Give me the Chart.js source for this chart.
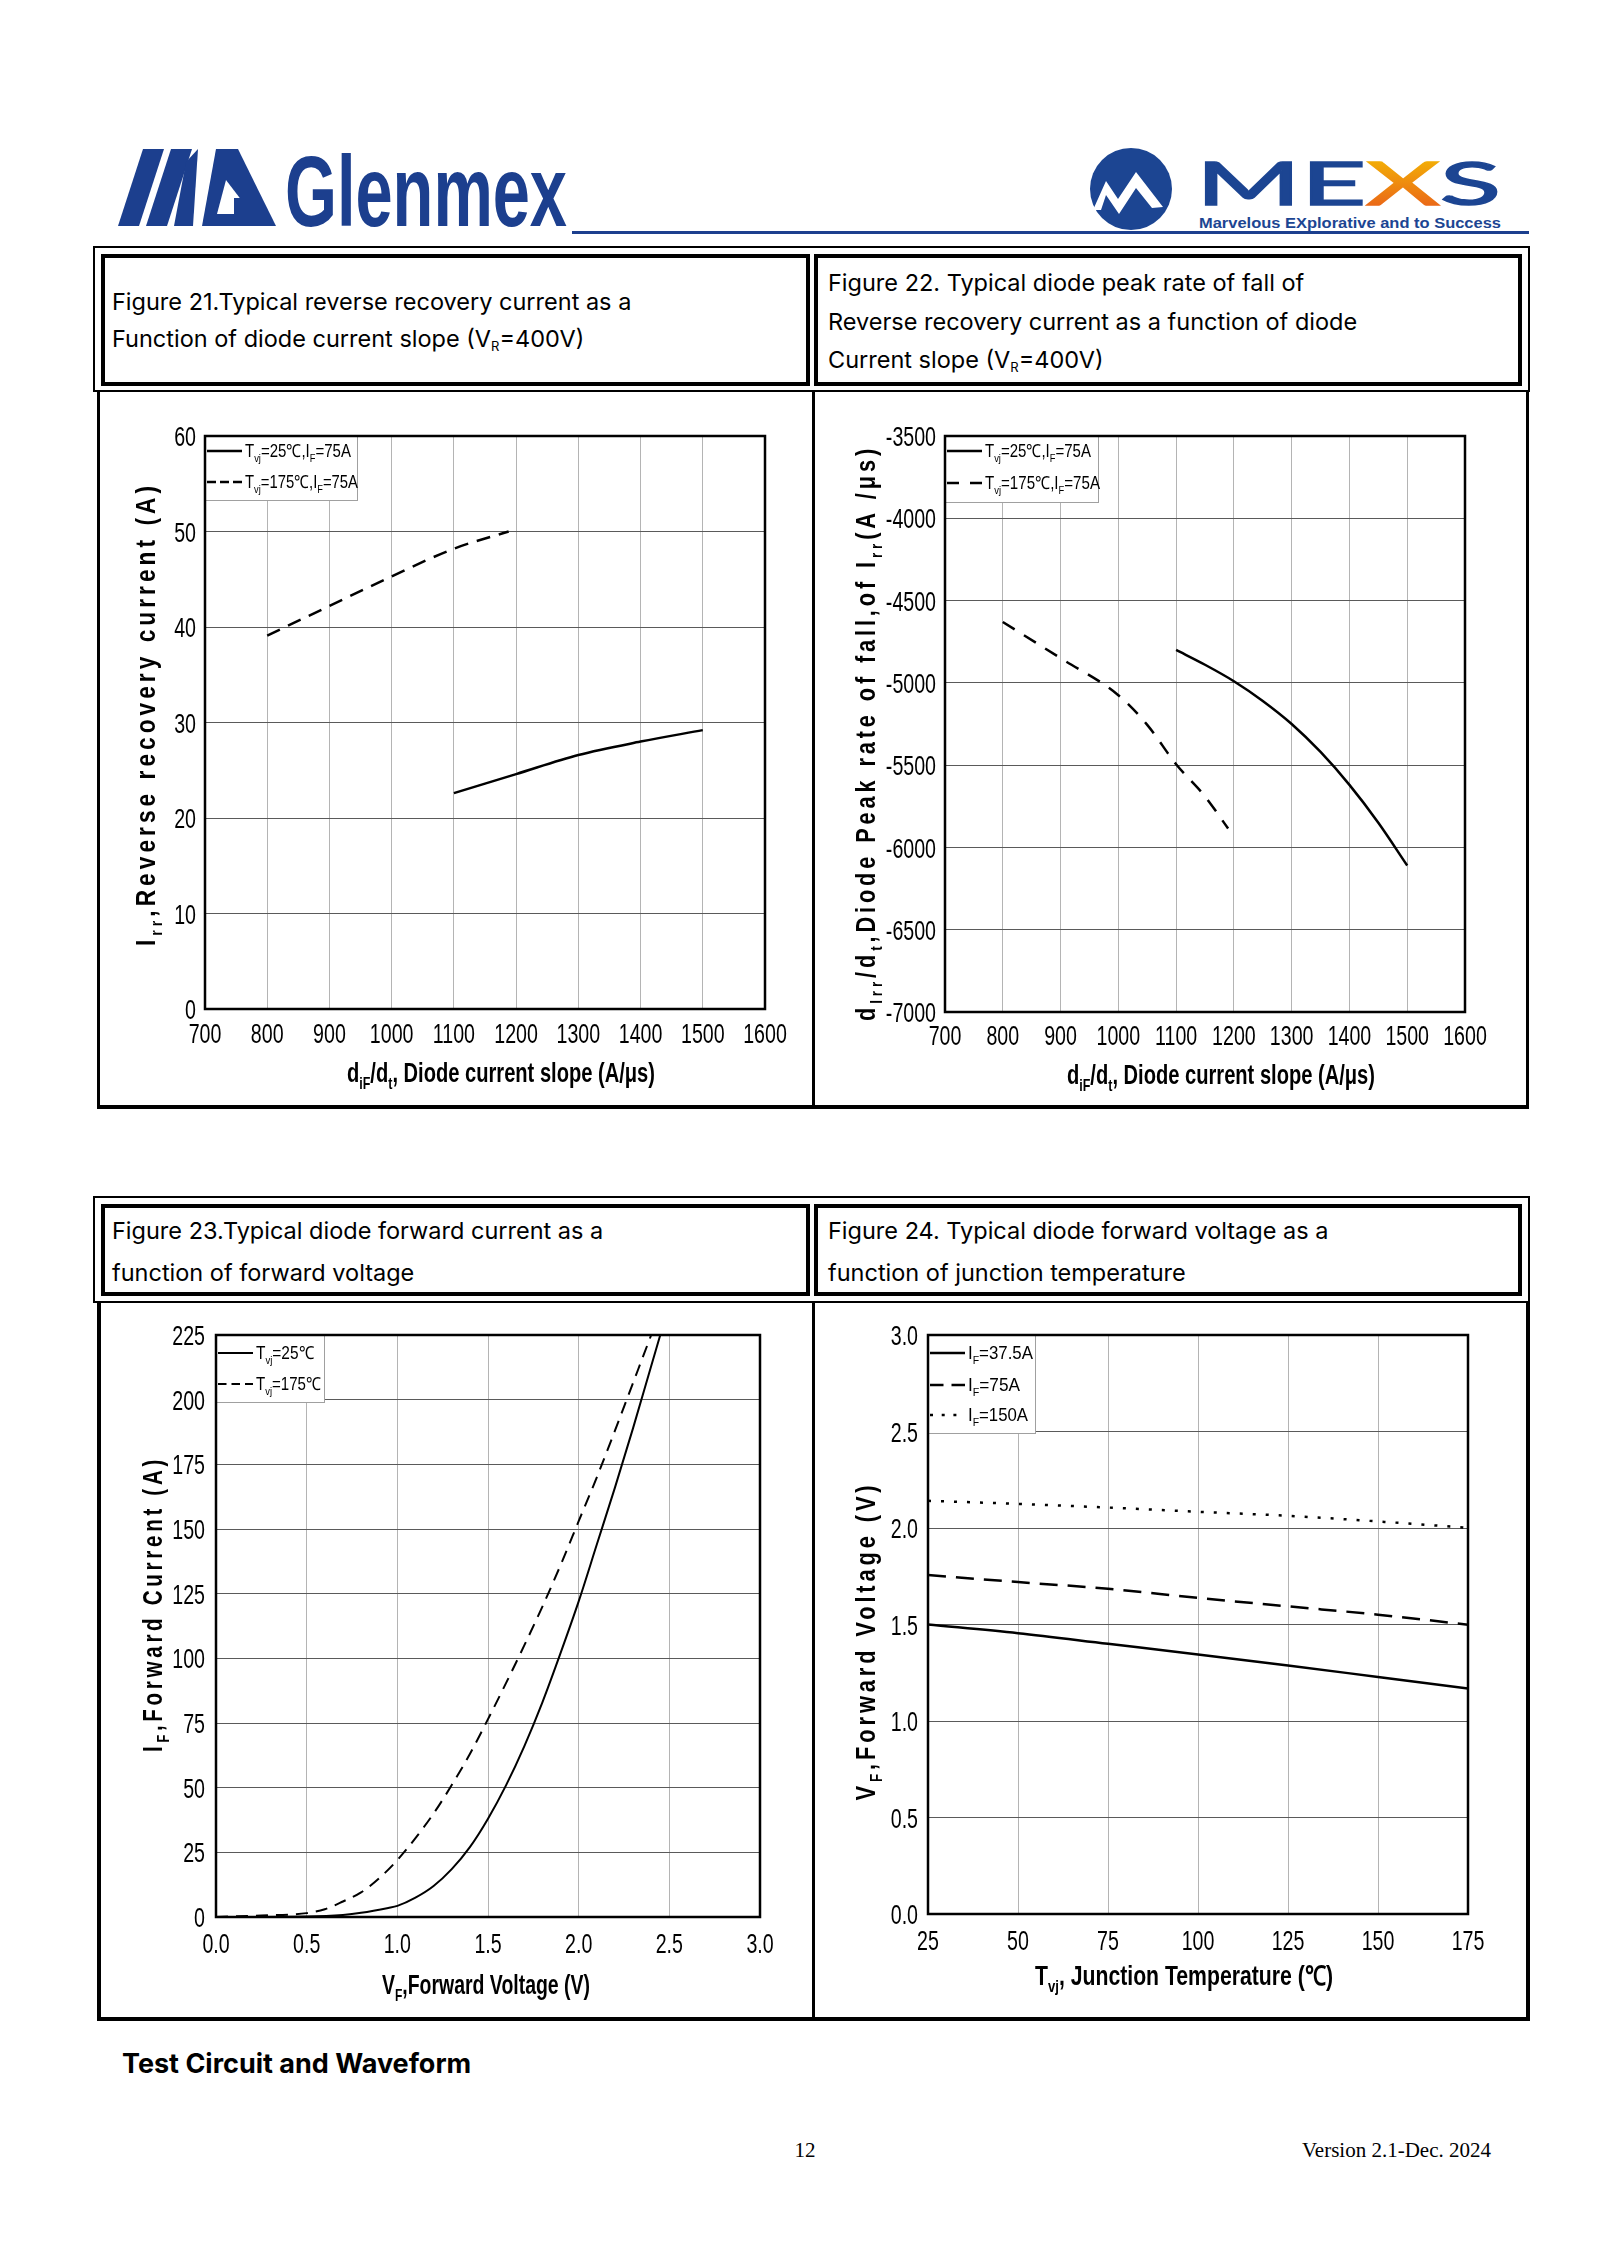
<!DOCTYPE html>
<html>
<head>
<meta charset="utf-8">
<script src="https://cdn.jsdelivr.net/npm/chart.js@4.4.1/dist/chart.umd.min.js"></script>
<style>
  html,body{margin:0;padding:0;background:#fff;}
  #page{position:relative;width:1600px;height:2263px;overflow:hidden;background:#fff;}
  .abs{position:absolute;box-sizing:border-box;}
  .hd{position:absolute;font-family:Inter,"Noto Sans",sans-serif;font-size:23.5px;color:#000;white-space:nowrap;line-height:28px;}
  .hd sub{font-size:13px;vertical-align:-4px;line-height:0;}
  canvas{position:absolute;}
</style>
</head>
<body>
<div id="page">
  <svg class="abs" style="left:0;top:0" width="1600" height="260">
    <defs>
      <linearGradient id="xg" x1="0" y1="0" x2="0" y2="1">
        <stop offset="0" stop-color="#f5c400"/>
        <stop offset="1" stop-color="#e8561c"/>
      </linearGradient>
    </defs>
    <g fill="#1c3f8e">
      <polygon points="118,226 139,226 164,149 143,149"/>
      <polygon points="146,226 167,226 192,149 171,149"/>
      <polygon points="174,226 193,226 198,149 186,162"/>
      <polygon points="216,149 238,149 276,226 202,226"/>
    </g>
    <polygon fill="#fff" points="226,180 252,214 217,214"/>
    <rect x="234" y="198" width="18" height="16" fill="#1c3f8e"/>
    <text x="285" y="226" font-family="'Liberation Sans',sans-serif" font-weight="bold" font-size="100" textLength="282" lengthAdjust="spacingAndGlyphs" fill="#1c3f8e">Glenmex</text>
    <rect x="572" y="231" width="957" height="3" fill="#1c3f8e"/>
    <circle cx="1131" cy="189" r="41" fill="#1c4592"/>
    <polygon fill="#fff" points="1093,210 1106,181 1118,199 1136,172 1163,207 1152,208 1136,188 1119,214 1106,195 1101,210"/>
    <text x="1196" y="205" font-family="Lato,'Open Sans',sans-serif" font-weight="400" font-size="60" textLength="305" lengthAdjust="spacingAndGlyphs" fill="#1c4592" stroke="#1c4592" stroke-width="1.5">ME<tspan fill="url(#xg)" stroke="url(#xg)">X</tspan>S</text>
    <text x="1199" y="228" font-family="'Liberation Sans',sans-serif" font-weight="bold" font-size="15" textLength="302" lengthAdjust="spacingAndGlyphs" fill="#1c4592">Marvelous EXplorative and to Success</text>
  </svg>

  <!-- table 1 -->
  <div class="abs" style="left:93px;top:246px;width:1437px;height:146px;border:2px solid #000;"></div>
  <div class="abs" style="left:101px;top:254px;width:709px;height:132px;border:4px solid #000;"></div>
  <div class="abs" style="left:814px;top:254px;width:708px;height:132px;border:4px solid #000;"></div>
  <div class="hd" style="left:112px;top:288px;">Figure 21.Typical reverse recovery current as a</div>
  <div class="hd" style="left:112px;top:325px;">Function of diode current slope (V<sub>R</sub>=400V)</div>
  <div class="hd" style="left:828px;top:269px;">Figure 22. Typical diode peak rate of fall of</div>
  <div class="hd" style="left:828px;top:308px;">Reverse recovery current as a function of diode</div>
  <div class="hd" style="left:828px;top:346px;">Current slope (V<sub>R</sub>=400V)</div>
  <!-- panel 1 -->
  <div class="abs" style="left:97px;top:390px;width:1432px;height:719px;border:3px solid #000;border-top:none;border-bottom-width:4px;"></div>
  <div class="abs" style="left:812px;top:391px;width:3px;height:716px;background:#000;"></div>

  <!-- table 2 -->
  <div class="abs" style="left:93px;top:1196px;width:1437px;height:107px;border:2px solid #000;"></div>
  <div class="abs" style="left:101px;top:1204px;width:709px;height:92px;border:4px solid #000;"></div>
  <div class="abs" style="left:814px;top:1204px;width:708px;height:92px;border:4px solid #000;"></div>
  <div class="hd" style="left:112px;top:1217px;">Figure 23.Typical diode forward current as a</div>
  <div class="hd" style="left:112px;top:1259px;">function of forward voltage</div>
  <div class="hd" style="left:828px;top:1217px;">Figure 24. Typical diode forward voltage as a</div>
  <div class="hd" style="left:828px;top:1259px;">function of junction temperature</div>
  <!-- panel 2 -->
  <div class="abs" style="left:97px;top:1301px;width:1433px;height:720px;border:4px solid #000;border-top:none;"></div>
  <div class="abs" style="left:812px;top:1302px;width:3px;height:716px;background:#000;"></div>

  <canvas id="c1" width="711" height="711" style="left:100px;top:393px;"></canvas>
  <canvas id="c2" width="710" height="711" style="left:816px;top:393px;"></canvas>
  <canvas id="c3" width="711" height="712" style="left:100px;top:1304px;"></canvas>
  <canvas id="c4" width="710" height="712" style="left:816px;top:1304px;"></canvas>

  <div class="abs" style="left:122px;top:2046px;font-family:Inter,'Noto Sans',sans-serif;font-weight:700;font-size:27px;line-height:36px;white-space:nowrap;">Test Circuit and Waveform</div>
  <div class="abs" style="left:780px;top:2137px;width:50px;text-align:center;font-family:'Liberation Serif','Times New Roman',serif;font-size:21px;line-height:26px;">12</div>
  <div class="abs" style="left:1191px;top:2137px;width:300px;text-align:right;font-family:'Liberation Serif','Times New Roman',serif;font-size:21px;line-height:26px;white-space:nowrap;">Version 2.1-Dec. 2024</div>
</div>

<script>
// ---------------- DATA ----------------
// Figure 21
const fig21XTicks = [700, 800, 900, 1000, 1100, 1200, 1300, 1400, 1500, 1600];
const fig21YTicks = [0, 10, 20, 30, 40, 50, 60];
const fig21X_25 = [1100, 1200, 1300, 1400, 1500];
const fig21Y_25 = [22.6, 24.6, 26.6, 28.0, 29.2];
const fig21X_175 = [800, 900, 1000, 1100, 1188];
const fig21Y_175 = [39.1, 42.2, 45.3, 48.2, 50.0];

// Figure 22
const fig22XTicks = [700, 800, 900, 1000, 1100, 1200, 1300, 1400, 1500, 1600];
const fig22YTicks = [-7000, -6500, -6000, -5500, -5000, -4500, -4000, -3500];
const fig22X_25 = [1100, 1150, 1200, 1250, 1300, 1350, 1400, 1450, 1500];
const fig22Y_25 = [-4800, -4890, -4990, -5110, -5250, -5420, -5620, -5850, -6110];
const fig22X_175 = [800, 900, 1000, 1050, 1100, 1150, 1190];
const fig22Y_175 = [-4630, -4850, -5075, -5255, -5495, -5690, -5885];

// Figure 23
const fig23XTicks = [0, 0.5, 1.0, 1.5, 2.0, 2.5, 3.0];
const fig23YTicks = [0, 25, 50, 75, 100, 125, 150, 175, 200, 225];
const fig23X_25 = [0, 0.5, 0.7, 0.8, 0.95, 1.0, 1.1, 1.2, 1.3, 1.4, 1.5, 1.6, 1.7, 1.8, 1.9, 2.0, 2.1, 2.2, 2.3, 2.4, 2.45];
const fig23Y_25 = [0, 0.2, 0.8, 1.6, 3.5, 4.3, 7.5, 12, 18.5, 27, 38, 51, 66, 83, 102, 122, 144, 166, 189, 213, 225];
const fig23X_175 = [0, 0.25, 0.5, 0.6, 0.7, 0.8, 0.9, 1.0, 1.1, 1.2, 1.3, 1.4, 1.5, 1.6, 1.7, 1.8, 1.9, 2.0, 2.1, 2.2, 2.3, 2.4];
const fig23Y_175 = [0, 0.6, 1.5, 3, 6, 9.5, 15, 22, 30.5, 40, 51, 63, 76.5, 90.5, 105, 120, 136, 153, 170, 188, 206.5, 225];

// Figure 24
const fig24XTicks = [25, 50, 75, 100, 125, 150, 175];
const fig24YTicks = [0.0, 0.5, 1.0, 1.5, 2.0, 2.5, 3.0];
const fig24X = [25, 50, 75, 100, 125, 150, 175];
const fig24Y_37 = [1.500, 1.455, 1.400, 1.345, 1.288, 1.228, 1.168];
const fig24Y_75 = [1.756, 1.720, 1.685, 1.638, 1.594, 1.551, 1.499];
const fig24Y_150 = [2.141, 2.125, 2.106, 2.084, 2.063, 2.034, 2.001];

// ---------------- HELPERS ----------------
const SANS = "'Liberation Sans',Arial,sans-serif";
const pts = (xs, ys) => xs.map((x, i) => ({x: x, y: ys[i]}));

function drawRuns(ctx, runs, o) {
  ctx.save();
  ctx.translate(o.x, o.y);
  if (o.rotate) ctx.rotate(-Math.PI / 2);
  const subSize = o.size * 0.62;
  const fontFor = s => (o.weight || 'normal') + ' ' + (s ? subSize : o.size) + 'px ' + o.family;
  ctx.letterSpacing = (o.spacing || 0) + 'px';
  let total = 0;
  const ws = runs.map(r => { ctx.font = fontFor(r[1]); const w = ctx.measureText(r[0]).width; total += w; return w; });
  const sx = o.width ? o.width / total : (o.sx || 1);
  ctx.scale(sx, 1);
  let cx = o.align === 'left' ? 0 : (o.align === 'right' ? -total : -total / 2);
  ctx.textBaseline = 'alphabetic';
  ctx.textAlign = 'left';
  ctx.fillStyle = o.color || '#000';
  runs.forEach((r, i) => {
    ctx.font = fontFor(r[1]);
    ctx.fillText(r[0], cx, o.size * 0.36 + (r[1] ? o.size * 0.26 : 0));
    cx += ws[i];
  });
  ctx.letterSpacing = '0px';
  ctx.restore();
}

const decoPlugin = {
  id: 'deco',
  afterDatasetsDraw(chart, args, o) {
    const ctx = chart.ctx, a = chart.chartArea, L = o.legend;
    ctx.save();
    ctx.fillStyle = '#fff';
    ctx.fillRect(a.left, a.top, L.w, L.h);
    ctx.strokeStyle = '#a0a0a0';
    ctx.lineWidth = 1;
    ctx.strokeRect(a.left + 0.5, a.top + 0.5, L.w, L.h);
    chart.data.datasets.forEach((ds, i) => {
      const yy = a.top + L.rows[i];
      ctx.beginPath();
      ctx.setLineDash(ds.legendDash || ds.borderDash || []);
      ctx.lineWidth = ds.borderWidth;
      ctx.strokeStyle = ds.borderColor;
      ctx.moveTo(a.left + 2, yy);
      ctx.lineTo(a.left + 2 + L.sample, yy);
      ctx.stroke();
      ctx.setLineDash([]);
      drawRuns(ctx, ds.labelRuns, {x: a.left + L.sample + 5, y: yy, size: 18, family: SANS, align: 'left', width: L.tw ? L.tw[i] : 0});
    });
    ctx.restore();
  },
  afterDraw(chart, args, o) {
    const ctx = chart.ctx, a = chart.chartArea;
    ctx.save();
    ctx.strokeStyle = '#000';
    ctx.lineWidth = 2.5;
    ctx.strokeRect(a.left, a.top, a.right - a.left, a.bottom - a.top);
    ctx.restore();
    // condensed tick labels placed from the library's scales
    const xs = chart.scales.x, ys = chart.scales.y;
    xs.ticks.forEach(t => {
      drawRuns(ctx, [[String(t.label), 0]], {x: xs.getPixelForValue(t.value), y: a.bottom + o.xLab, size: 28, family: SANS, sx: 0.7});
    });
    ys.ticks.forEach(t => {
      drawRuns(ctx, [[String(t.label), 0]], {x: a.left - o.yLab, y: ys.getPixelForValue(t.value), size: 28, family: SANS, sx: 0.7, align: 'right'});
    });
    const off = o.offset;
    drawRuns(ctx, o.xTitle.runs, {x: o.xTitle.x - off.left, y: o.xTitle.y - off.top, size: 27, weight: 'bold', family: SANS, width: o.xTitle.w});
    drawRuns(ctx, o.yTitle.runs, {x: o.yTitle.x - off.left, y: o.yTitle.y - off.top, size: 28, weight: 'bold', family: SANS, spacing: 5, rotate: true, width: o.yTitle.w});
  }
};

function makeChart(id, cfg) {
  const cv = document.getElementById(id);
  const box = {left: parseFloat(cv.style.left), top: parseFloat(cv.style.top), width: cv.width, height: cv.height};
  const p = cfg.plot;
  const tickFont = {family: SANS, size: 20};
  return new Chart(cv, {
    type: 'line',
    data: {datasets: cfg.datasets.map(d => Object.assign({
      borderColor: '#000', borderWidth: 2.5, pointRadius: 0, fill: false,
      cubicInterpolationMode: 'monotone', borderCapStyle: 'butt'
    }, d))},
    options: {
      responsive: false, animation: false, devicePixelRatio: 1,
      layout: {padding: {left: 0, bottom: 0, top: p.top - box.top, right: box.left + box.width - p.right}},
      plugins: {
        legend: {display: false}, tooltip: {enabled: false},
        deco: {legend: cfg.legend, xTitle: cfg.xTitle, yTitle: cfg.yTitle, offset: box, xLab: cfg.xLab, yLab: cfg.yLab}
      },
      scales: {
        x: {
          type: 'linear', min: cfg.xTicks[0], max: cfg.xTicks[cfg.xTicks.length - 1],
          afterBuildTicks: s => { s.ticks = cfg.xTicks.map(v => ({value: v})); },
          afterFit: s => { s.height = box.top + box.height - p.bottom; },
          grid: {color: '#b4b4b4', lineWidth: 1, drawTicks: false},
          border: {display: false},
          ticks: {font: tickFont, color: 'rgba(0,0,0,0)', padding: 10, maxRotation: 0, autoSkip: false, callback: cfg.xFmt}
        },
        y: {
          type: 'linear', min: cfg.yTicks[0], max: cfg.yTicks[cfg.yTicks.length - 1],
          afterBuildTicks: s => { s.ticks = cfg.yTicks.map(v => ({value: v})); },
          afterFit: s => { s.width = p.left - box.left; },
          grid: {color: '#5a5a5a', lineWidth: 1, drawTicks: false},
          border: {display: false},
          ticks: {font: tickFont, color: 'rgba(0,0,0,0)', padding: 10, autoSkip: false, callback: cfg.yFmt}
        }
      }
    },
    plugins: [decoPlugin]
  });
}

const intFmt = v => String(v);
const oneDec = v => Number(v).toFixed(1);

makeChart('c1', {
  plot: {left: 205, top: 436, right: 765, bottom: 1009},
  xTicks: fig21XTicks, yTicks: fig21YTicks, xFmt: intFmt, yFmt: intFmt, xLab: 24, yLab: 9,
  datasets: [
    {label: 'Tvj=25℃,IF=75A', labelRuns: [['T',0],['vj',1],['=25℃,I',0],['F',1],['=75A',0]], data: pts(fig21X_25, fig21Y_25)},
    {label: 'Tvj=175℃,IF=75A', labelRuns: [['T',0],['vj',1],['=175℃,I',0],['F',1],['=75A',0]], data: pts(fig21X_175, fig21Y_175), borderDash: [14, 9], legendDash: [9, 4]}
  ],
  legend: {w: 152, h: 64, rows: [15, 46], sample: 35, tw: [106, 113]},
  xTitle: {runs: [['d',0],['iF',1],['/d',0],['t',1],[', Diode current slope (A/μs)',0]], x: 501, y: 1072, w: 308},
  yTitle: {runs: [['I',0],['rr',1],[',Reverse recovery current (A)',0]], x: 145, y: 714, w: 464}
});

makeChart('c2', {
  plot: {left: 945, top: 436, right: 1465, bottom: 1012},
  xTicks: fig22XTicks, yTicks: fig22YTicks, xFmt: intFmt, yFmt: intFmt, xLab: 23, yLab: 9,
  datasets: [
    {label: 'Tvj=25℃,IF=75A', labelRuns: [['T',0],['vj',1],['=25℃,I',0],['F',1],['=75A',0]], data: pts(fig22X_25, fig22Y_25)},
    {label: 'Tvj=175℃,IF=75A', labelRuns: [['T',0],['vj',1],['=175℃,I',0],['F',1],['=75A',0]], data: pts(fig22X_175, fig22Y_175), borderDash: [14, 11], legendDash: [12, 11]}
  ],
  legend: {w: 153, h: 66, rows: [15, 47], sample: 35, tw: [106, 115]},
  xTitle: {runs: [['d',0],['iF',1],['/d',0],['t',1],[', Diode current slope (A/μs)',0]], x: 1221, y: 1074, w: 308},
  yTitle: {runs: [['d',0],['Irr',1],['/d',0],['t',1],[',Diode Peak rate of fall,of I',0],['rr',1],['(A /μs)',0]], x: 865, y: 733, w: 576}
});

makeChart('c3', {
  plot: {left: 216, top: 1335, right: 760, bottom: 1917},
  xTicks: fig23XTicks, yTicks: fig23YTicks, xFmt: oneDec, yFmt: intFmt, xLab: 26, yLab: 11,
  datasets: [
    {label: 'Tvj=25℃', labelRuns: [['T',0],['vj',1],['=25℃',0]], data: pts(fig23X_25, fig23Y_25), borderWidth: 2},
    {label: 'Tvj=175℃', labelRuns: [['T',0],['vj',1],['=175℃',0]], data: pts(fig23X_175, fig23Y_175), borderWidth: 2, borderDash: [12, 8], legendDash: [8.5, 5]}
  ],
  legend: {w: 108, h: 67, rows: [18, 49], sample: 35, tw: [58, 65]},
  xTitle: {runs: [['V',0],['F',1],[',Forward Voltage (V)',0]], x: 486, y: 1984, w: 208},
  yTitle: {runs: [['I',0],['F',1],[',Forward Current (A)',0]], x: 152, y: 1604, w: 296}
});

makeChart('c4', {
  plot: {left: 928, top: 1335, right: 1468, bottom: 1914},
  xTicks: fig24XTicks, yTicks: fig24YTicks, xFmt: intFmt, yFmt: oneDec, xLab: 26, yLab: 10,
  datasets: [
    {label: 'IF=37.5A', labelRuns: [['I',0],['F',1],['=37.5A',0]], data: pts(fig24X, fig24Y_37)},
    {label: 'IF=75A', labelRuns: [['I',0],['F',1],['=75A',0]], data: pts(fig24X, fig24Y_75), borderDash: [18, 10], legendDash: [13.5, 8]},
    {label: 'IF=150A', labelRuns: [['I',0],['F',1],['=150A',0]], data: pts(fig24X, fig24Y_150), borderDash: [3, 10], legendDash: [3, 8.7]}
  ],
  legend: {w: 107, h: 98, rows: [18, 50, 80], sample: 35, tw: [65, 52, 60]},
  xTitle: {runs: [['T',0],['vj',1],[', Junction Temperature (℃)',0]], x: 1184, y: 1975, w: 298},
  yTitle: {runs: [['V',0],['F',1],[',Forward Voltage (V)',0]], x: 865, y: 1641, w: 319}
});
</script>
</body>
</html>
